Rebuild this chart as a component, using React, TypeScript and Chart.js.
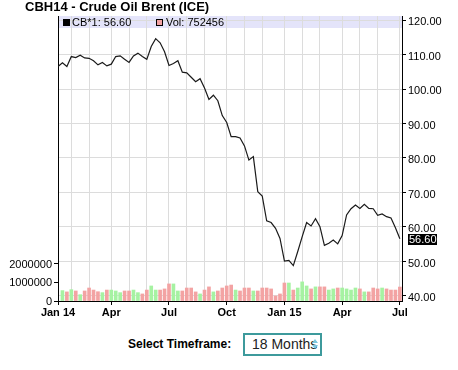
import React, { useEffect, useRef } from "react";
import { Chart, registerables } from "chart.js";

Chart.register(...registerables);

// Weekly dates (Mondays)
const weeks: string[] = [
  "2014-01-13", "2014-01-20", "2014-01-27",
  "2014-02-03", "2014-02-10", "2014-02-17", "2014-02-24",
  "2014-03-03", "2014-03-10", "2014-03-17", "2014-03-24", "2014-03-31",
  "2014-04-07", "2014-04-14", "2014-04-21", "2014-04-28",
  "2014-05-05", "2014-05-12", "2014-05-19", "2014-05-26",
  "2014-06-02", "2014-06-09", "2014-06-16", "2014-06-23", "2014-06-30",
  "2014-07-07", "2014-07-14", "2014-07-21", "2014-07-28",
  "2014-08-04", "2014-08-11", "2014-08-18", "2014-08-25",
  "2014-09-01", "2014-09-08", "2014-09-15", "2014-09-22", "2014-09-29",
  "2014-10-06", "2014-10-13", "2014-10-20", "2014-10-27",
  "2014-11-03", "2014-11-10", "2014-11-17", "2014-11-24",
  "2014-12-01", "2014-12-08", "2014-12-15", "2014-12-22", "2014-12-29",
  "2015-01-05", "2015-01-12", "2015-01-19", "2015-01-26",
  "2015-02-02", "2015-02-09", "2015-02-16", "2015-02-23",
  "2015-03-02", "2015-03-09", "2015-03-16", "2015-03-23", "2015-03-30",
  "2015-04-06", "2015-04-13", "2015-04-20", "2015-04-27",
  "2015-05-04", "2015-05-11", "2015-05-18", "2015-05-25",
  "2015-06-01", "2015-06-08", "2015-06-15", "2015-06-22", "2015-06-29",
  "2015-07-06",
];

// Weekly close, CB*1
const prices: number[] = [
  106.5, 107.6, 106.5, 109.4, 109.1, 109.8, 109.0, 108.9, 108.2, 107.0,
  107.7, 106.7, 107.2, 109.4, 109.6, 108.6, 107.7, 109.6, 110.4, 109.4,
  108.6, 112.3, 114.6, 113.4, 110.8, 106.8, 107.4, 108.2, 104.9, 104.7,
  103.4, 102.1, 103.0, 100.3, 97.0, 98.2, 96.6, 92.3, 90.3, 86.2,
  86.2, 85.8, 83.5, 79.4, 80.4, 70.2, 69.0, 61.8, 61.3, 59.6,
  56.7, 50.1, 50.3, 48.8, 52.9, 57.2, 61.3, 60.3, 62.4, 60.1,
  54.7, 55.3, 56.2, 55.1, 57.5, 63.5, 65.3, 66.4, 65.4, 66.6,
  65.4, 65.3, 63.4, 63.8, 63.0, 62.6, 59.8, 56.6,
];

// Weekly volume (weeks 2..78)
const volumes: number[] = [
  560000, 490000, 610000, 540000, 340000, 540000, 700000, 590000, 500000, 450000,
  590000, 590000, 540000, 450000, 540000, 540000, 590000, 450000, 380000, 590000,
  810000, 590000, 590000, 650000, 920000, 920000, 540000, 540000, 700000, 700000,
  490000, 380000, 590000, 760000, 490000, 540000, 700000, 810000, 860000, 590000,
  540000, 700000, 700000, 540000, 540000, 700000, 700000, 650000, 270000, 380000,
  970000, 970000, 590000, 700000, 1030000, 810000, 650000, 760000, 760000, 760000,
  590000, 650000, 700000, 700000, 650000, 590000, 700000, 650000, 490000, 490000,
  700000, 650000, 700000, 650000, 590000, 590000, 752456,
];

const priceTicks: number[] = [40, 50, 60, 70, 80, 90, 100, 110, 120];
const volumeTicks: number[] = [0, 1000000, 2000000];
const monthNames: string[] = ["Jan", "Feb", "Mar", "Apr", "May", "Jun", "Jul", "Aug", "Sep", "Oct", "Nov", "Dec"];
const lastPrice = 56.6;
const lastVolume = 752456;

const FONT = "'Liberation Sans', Arial, Helvetica, sans-serif";

export default function App() {
  const ref = useRef<HTMLCanvasElement | null>(null);

  useEffect(() => {
    if (!ref.current) return;
    Chart.defaults.font.family = FONT;
    Chart.defaults.color = "#000";

    // month-start ticks (first week of each month) and quarterly labels
    const monthTicks: number[] = [0];
    const labels: Record<number, string> = {};
    weeks.forEach((w, i) => {
      const m = parseInt(w.slice(5, 7), 10);
      const y = w.slice(2, 4);
      if (i > 0) {
        const pm = parseInt(weeks[i - 1].slice(5, 7), 10);
        if (pm !== m) monthTicks.push(i);
        else return;
      }
      if ((m - 1) % 3 === 0) {
        labels[i] = m === 1 ? `${monthNames[0]} ${y}` : monthNames[m - 1];
      }
    });

    const lineData = prices.map((p, i) => ({ x: i, y: p }));
    const barData = volumes.map((v, i) => ({ x: i + 1, y: v }));
    const barColors = volumes.map((_, i) =>
      prices[i + 1] >= prices[i] ? "#a6f2a2" : "#f3a3a3"
    );

    const overlay = {
      id: "overlay",
      beforeDraw(chart: any) {
        const { ctx, chartArea: a } = chart;
        ctx.save();
        ctx.fillStyle = "#e4e4fa";
        ctx.fillRect(a.left, a.top, a.right - a.left, 12);
        ctx.restore();
      },
      afterDraw(chart: any) {
        const { ctx, chartArea: a } = chart;
        ctx.save();
        ctx.font = `11px ${FONT}`;
        ctx.textBaseline = "middle";
        const ly = a.top + 6.5;
        ctx.fillStyle = "#000";
        ctx.fillRect(63, ly - 3.5, 7, 7);
        ctx.fillText(`CB*1: ${lastPrice.toFixed(2)}`, 72, ly);
        ctx.fillStyle = "#f3a3a3";
        ctx.fillRect(156, ly - 3.5, 7, 7);
        ctx.strokeStyle = "#000";
        ctx.lineWidth = 1;
        ctx.strokeRect(156.5, ly - 3, 6, 6);
        ctx.fillStyle = "#000";
        ctx.fillText(`Vol: ${lastVolume}`, 166, ly);
        // last price tag
        const py = chart.scales.y.getPixelForValue(lastPrice);
        ctx.fillStyle = "#000";
        ctx.fillRect(a.right + 6, Math.round(py) - 5, 29, 11);
        ctx.fillStyle = "#fff";
        ctx.fillText(lastPrice.toFixed(2), a.right + 7, Math.round(py) + 0.5);
        ctx.restore();
      },
    };

    const chart = new Chart(ref.current, {
      type: "bar",
      data: {
        datasets: [
          {
            type: "line",
            data: lineData,
            xAxisID: "x",
            yAxisID: "y",
            borderColor: "#1a1a1a",
            borderWidth: 1.2,
            pointRadius: 0,
            tension: 0,
            order: 0,
          } as any,
          {
            type: "bar",
            data: barData,
            xAxisID: "x",
            yAxisID: "vol",
            backgroundColor: barColors,
            barThickness: 3,
            order: 1,
          } as any,
        ],
      },
      options: {
        responsive: false,
        animation: false,
        devicePixelRatio: 1,
        layout: { padding: { top: 16, left: 0, right: 0, bottom: 0 } },
        plugins: {
          legend: { display: false },
          tooltip: { enabled: false },
          title: { display: false },
        },
        scales: {
          x: {
            type: "linear",
            min: 0,
            max: 77.48,
            offset: false,
            afterBuildTicks: (s: any) => {
              s.ticks = monthTicks.map((v) => ({ value: v }));
            },
            afterFit: (s: any) => {
              s.height = 29;
            },
            ticks: {
              autoSkip: false,
              maxRotation: 0,
              padding: 1,
              font: { size: 11, weight: "bold" },
              color: "#000",
              callback: (v: any) => labels[v as number] ?? "",
            },
            grid: {
              offset: false,
              color: "#dcdcdc",
              tickLength: 4,
              tickColor: (c: any) =>
                c.tick && labels[c.tick.value] !== undefined ? "#000" : "rgba(0,0,0,0)",
            },
            border: { display: true, color: "#000", width: 1 },
          },
          y: {
            type: "linear",
            position: "right",
            min: 38.55,
            max: 121.16,
            afterBuildTicks: (s: any) => {
              s.ticks = priceTicks.map((v) => ({ value: v }));
            },
            afterFit: (s: any) => {
              s.width = 56;
            },
            ticks: {
              font: { size: 11 },
              color: "#000",
              padding: 2,
              labelOffset: 2,
              callback: (v: any) => Number(v).toFixed(2),
            },
            grid: { color: "#dcdcdc", tickLength: 4, tickColor: "#000" },
            border: { display: true, color: "#000", width: 1 },
          },
          vol: {
            type: "linear",
            position: "left",
            min: 0,
            max: 15350000,
            afterBuildTicks: (s: any) => {
              s.ticks = volumeTicks.map((v) => ({ value: v }));
            },
            afterFit: (s: any) => {
              s.width = 58;
            },
            ticks: {
              font: { size: 11 },
              color: "#000",
              padding: 2,
              labelOffset: 1,
              callback: (v: any) => String(v),
            },
            grid: { drawOnChartArea: false, tickLength: 4, tickColor: "#000" },
            border: { display: true, color: "#000", width: 1 },
          },
        },
      } as any,
      plugins: [overlay],
    });
    return () => chart.destroy();
  }, []);

  return (
    <div
      style={{
        position: "fixed",
        left: 0,
        top: 0,
        width: 458,
        height: 370,
        background: "#fff",
        fontFamily: FONT,
        color: "#000",
      }}
    >
      <canvas
        ref={ref}
        width={458}
        height={330}
        style={{ position: "absolute", left: 0, top: 0, width: 458, height: 330 }}
      />
      <div
        style={{
          position: "absolute",
          left: 25,
          top: -1,
          fontSize: 13,
          fontWeight: "bold",
          lineHeight: "15px",
          whiteSpace: "nowrap",
        }}
      >
        CBH14 - Crude Oil Brent (ICE)
      </div>
      <div
        style={{
          position: "absolute",
          left: 128,
          top: 337,
          fontSize: 12,
          fontWeight: "bold",
          lineHeight: "14px",
          whiteSpace: "nowrap",
        }}
      >
        Select Timeframe:
      </div>
      <div
        style={{
          position: "absolute",
          left: 243,
          top: 333,
          width: 75,
          height: 19,
          border: "2px solid #3d9a9c",
          fontSize: 14,
          lineHeight: "19px",
          color: "#222",
          overflow: "hidden",
          whiteSpace: "nowrap",
        }}
      >
        <span style={{ position: "absolute", left: 7, top: 0 }}>18 Months</span>
        <span
          style={{
            position: "absolute",
            left: 67,
            top: 4,
            width: 0,
            height: 0,
            borderLeft: "3px solid transparent",
            borderRight: "3px solid transparent",
            borderBottom: "4px solid #7cc6dc",
          }}
        />
        <span
          style={{
            position: "absolute",
            left: 67,
            top: 10,
            width: 0,
            height: 0,
            borderLeft: "3px solid transparent",
            borderRight: "3px solid transparent",
            borderTop: "4px solid #7cc6dc",
          }}
        />
      </div>
    </div>
  );
}
